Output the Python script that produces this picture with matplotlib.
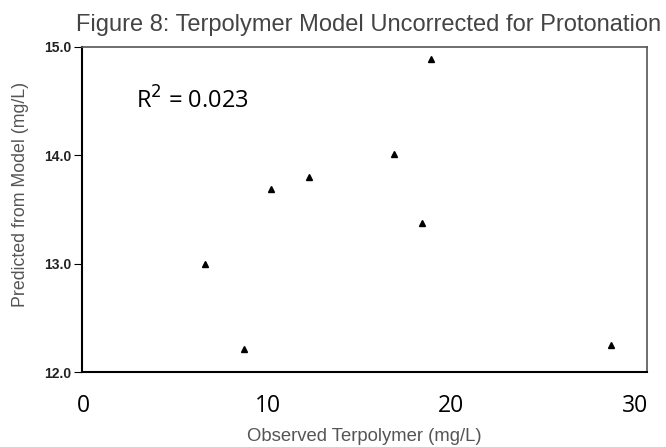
import matplotlib
matplotlib.use('Agg')
import matplotlib.pyplot as plt

# valores
observado = [6.6, 8.7, 10.2, 12.25, 16.9, 18.9, 18.4, 28.7]
predicho = [13.0, 12.21, 13.69, 13.8, 14.01, 14.89, 13.38, 12.25]
xticks = [0, 10, 20, 30]
yticks = [12.0, 13.0, 14.0, 15.0]

fig = plt.figure(figsize=(6.66, 4.47), dpi=100)
ax = fig.add_axes([82/666, 1 - 372/447, (647-82)/666, (372-47)/447])

ax.plot(observado, predicho, linestyle='none', marker='^', color='black', markersize=4.5)

ax.set_xlim(-0.1, 30.65)
ax.set_ylim(12.0, 15.0)

ax.set_xticks(xticks)
ax.set_xticklabels([str(v) for v in xticks], family='Open Sans', fontsize=16.5)
ax.tick_params(axis='x', length=0, pad=15.5)
ax.set_yticks(yticks)
ax.set_yticklabels(['%.1f' % v for v in yticks], family='Liberation Sans',
                   fontsize=10, fontweight='bold', color='#222222')
ax.tick_params(axis='y', length=6, width=0.8, pad=1.5)

for lado in ['left', 'bottom']:
    ax.spines[lado].set_linewidth(1.5)
    ax.spines[lado].set_color('black')
for lado in ['top', 'right']:
    ax.spines[lado].set_linewidth(1.2)
    ax.spines[lado].set_color('#555555')

ax.set_xlabel('Observed Terpolymer (mg/L)', family='Liberation Sans', fontsize=13.3,
              color='#555555', labelpad=7.5)
ax.set_ylabel('Predicted from Model (mg/L)', family='Liberation Sans', fontsize=12.8,
              color='#555555')
ax.yaxis.set_label_coords(-0.094, 0.545)
fig.text(369/666, 1 - 25/447, 'Figure 8: Terpolymer Model Uncorrected for Protonation',
         family='Liberation Sans', fontsize=17, color='#444444', ha='center', va='center')

ax.text(0.095, 0.835, r'R$^2$ = 0.023', transform=ax.transAxes, family='Open Sans',
        fontsize=17, va='center')

fig.savefig('out.png', dpi=100)
